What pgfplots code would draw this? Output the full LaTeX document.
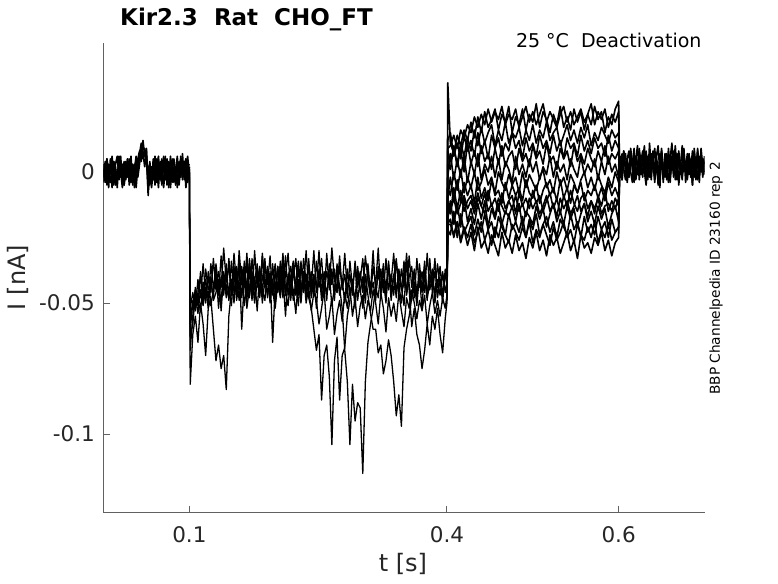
\documentclass[border=0pt]{standalone}
\usepackage{fontspec}
\setmainfont{DejaVu Sans}
\usepackage{pgfplots}
\usepackage{pgfplotstable}
\pgfplotsset{compat=1.18}

% currents in pA, time in ms
\pgfplotstableread{
x a b c d
0 -2 3 -4 1
2 4 -3 1 -4
4 -5 2 5 5
6 3 -6 -1 -2
8 -1 5 -4 3
10 6 -2 2 -6
12 -4 4 -5 4
14 2 -5 3 0
16 -6 1 6 -3
18 5 -3 -2 6
20 -2 6 0 -1
22 3 -4 -6 2
24 -5 2 4 -5
26 1 -1 -3 4
28 4 5 5 -2
30 -3 -5 -1 5
32 6 0 3 -4
34 -4 3 -5 1
36 2 -6 1 3
38 -1 4 6 -6
40 5 1 -2 2
42 8 6 3 7
44 4 10 9 11
46 12 5 7 6
48 6 9 2 8
50 9 3 8 5
52 -9 2 -3 -7
54 3 -5 4 0
56 -4 2 -6 -3
58 5 -3 1 4
60 -2 6 -4 -5
62 1 -4 5 2
64 -6 3 -1 6
66 4 -2 2 -2
68 -3 5 -5 -4
70 2 -6 6 3
72 6 1 -3 -1
74 -5 4 0 5
76 3 -3 4 -6
78 -1 6 -6 2
80 5 -4 2 4
82 -4 2 5 -3
84 2 -5 -2 1
86 -6 3 3 6
88 4 0 -4 -5
90 -2 5 6 3
92 7 -3 -1 -2
94 -3 4 2 0
96 1 -6 5 5
98 6 2 -3 -4
100 -1 3 1 2
}\segA

\pgfplotstableread{
x d1 d2 d3 d4 d5 d6
100 0 1 -1 2 -2 0
101 -81 -60 -52 -68 -57 -63
104 -62 -50 -46 -55 -49 -58
107 -55 -45 -52 -44 -53 -47
110 -65 -51 -41 -49 -46 -54
113 -50 -38 -48 -53 -40 -45
116 -58 -46 -35 -42 -50 -51
119 -70 -41 -47 -50 -37 -44
122 -52 -49 -40 -38 -45 -52
125 -48 -35 -46 -51 -42 -40
128 -60 -44 -33 -45 -48 -49
131 -72 -39 -45 -37 -35 -46
134 -66 -47 -38 -52 -44 -41
137 -75 -32 -44 -40 -49 -53
140 -70 -45 -29 -47 -38 -39
143 -83 -38 -42 -35 -46 -48
146 -55 -48 -36 -49 -33 -44
149 -45 -34 -47 -41 -44 -51
152 -38 -46 -31 -50 -39 -36
155 -47 -40 -43 -36 -47 -49
158 -34 -49 -37 -45 -30 -42
161 -60 -36 -48 -39 -43 -47
164 -41 -44 -34 -51 -37 -40
167 -36 -31 -45 -42 -49 -52
170 -48 -47 -38 -35 -33 -44
173 -33 -39 -49 -47 -45 -38
176 -45 -50 -30 -40 -41 -49
179 -39 -35 -44 -53 -36 -43
182 -47 -46 -37 -38 -48 -36
185 -31 -41 -46 -45 -32 -50
188 -44 -33 -35 -49 -44 -41
191 -36 -48 -43 -37 -39 -47
194 -49 -38 -32 -44 -50 -39
197 -42 -65 -47 -41 -35 -45
200 -35 -44 -38 -50 -46 -52
203 -46 -36 -45 -36 -38 -42
206 -38 -47 -34 -46 -43 -48
209 -44 -32 -48 -40 -31 -37
212 -32 -45 -39 -55 -47 -46
215 -47 -40 -31 -39 -40 -51
218 -40 -49 -46 -48 -36 -40
221 -34 -37 -40 -35 -49 -45
224 -45 -43 -33 -47 -42 -54
227 -37 -51 -47 -42 -34 -41
230 -48 -34 -36 -50 -45 -47
233 -33 -46 -44 -38 -39 -38
236 -42 -39 -30 -46 -48 -50
239 -36 -48 -45 -33 -35 -44
242 -47 -52 -38 -48 -44 -53
245 -39 -60 -47 -41 -30 -46
248 -44 -68 -34 -52 -46 -49
251 -30 -62 -44 -37 -40 -58
254 -46 -87 -39 -49 -33 -52
257 -38 -70 -48 -42 -47 -45
260 -49 -66 -31 -46 -38 -60
263 -35 -78 -45 -39 -43 -55
266 -43 -104 -37 -51 -29 -48
269 -37 -72 -49 -44 -41 -62
272 -46 -63 -35 -38 -46 -54
275 -32 -87 -44 -47 -36 -49
278 -45 -70 -52 -41 -44 -57
281 -39 -67 -68 -50 -31 -46
284 -48 -55 -80 -37 -45 -52
287 -34 -49 -104 -46 -39 -44
290 -44 -41 -81 -43 -47 -55
293 -36 -52 -95 -49 -34 -48
296 -49 -38 -88 -36 -44 -59
299 -41 -46 -90 -45 -38 -51
302 -33 -40 -115 -52 -46 -47
305 -47 -50 -80 -39 -32 -56
308 -38 -35 -65 -47 -41 -49
311 -45 -47 -58 -54 -48 -53
314 -30 -42 -52 -60 -36 -45
317 -46 -49 -44 -60 -43 -50
320 -39 -36 -48 -69 -29 -58
323 -44 -45 -37 -66 -47 -46
326 -35 -41 -46 -77 -38 -52
329 -48 -50 -33 -72 -44 -61
332 -37 -34 -45 -64 -35 -48
335 -42 -46 -39 -70 -49 -55
338 -31 -39 -47 -80 -40 -50
341 -46 -48 -34 -93 -33 -57
344 -39 -37 -43 -85 -46 -46
347 -45 -44 -50 -97 -37 -53
350 -34 -51 -38 -67 -44 -59
353 -47 -35 -46 -60 -31 -48
356 -40 -43 -32 -55 -45 -52
359 -36 -49 -44 -48 -59 -45
362 -48 -38 -37 -42 -52 -50
365 -33 -46 -48 -51 -62 -56
368 -44 -40 -35 -39 -66 -49
371 -38 -52 -45 -46 -75 -53
374 -46 -36 -40 -34 -68 -47
377 -31 -47 -49 -48 -58 -58
380 -45 -39 -33 -43 -66 -51
383 -40 -44 -46 -37 -55 -46
386 -47 -33 -38 -50 -60 -54
389 -35 -48 -44 -41 -52 -49
392 -43 -41 -36 -47 -62 -55
395 -38 -50 -47 -39 -69 -48
398 -46 -37 -40 -45 -56 -52
400 -42 -44 -39 -46 -50 -47
}\segB

\pgfplotstableread{
x g1 g2 g3 g4 g5 g6 g7 g8 g9 g10 g11 g12 g13 g14
400 -42 -44 -39 -46 -50 -47 -43 -45 -41 -48 -44 -45 -43 -40
401 34 8 12 3 -2 -6 -10 -14 -18 -22 -20 9 -12 -20
404 11 4 15 1 7 -9 -2 -16 -11 -24 -18 10 -15 -20
408 7 9 6 10 -3 0 -11 -6 -20 -15 -25 14 -10 -24
412 14 3 11 2 5 -7 -3 -14 -12 -25 -19 9 -16 -19
416 10 11 5 9 -2 1 -12 -7 -21 -16 -27 16 -12 -26
420 16 6 14 0 6 -8 -4 -15 -10 -23 -22 13 -9 -21
424 12 13 8 11 -4 -2 -9 -11 -19 -20 -28 18 -14 -25
428 19 8 12 3 4 -6 -5 -9 -14 -17 -23 15 -11 -20
432 13 16 6 8 -1 0 -12 -14 -20 -24 -30 21 -16 -27
436 21 10 15 2 7 -7 -2 -8 -12 -18 -21 17 -10 -23
440 15 17 7 10 -3 -4 -10 -13 -18 -23 -29 22 -13 -19
444 23 11 12 4 3 1 -6 -16 -11 -16 -26 18 -8 -26
448 17 15 5 7 0 -5 -11 -7 -21 -22 -31 24 -15 -22
452 20 18 14 1 6 -2 -3 -13 -14 -19 -24 19 -12 -28
456 24 10 9 9 -2 -8 -9 -10 -18 -25 -28 23 -17 -21
460 16 16 13 3 5 0 -7 -15 -12 -17 -32 20 -10 -25
464 22 12 6 10 -3 -4 -12 -8 -20 -21 -23 25 -13 -19
468 19 19 11 2 4 -7 -4 -14 -15 -24 -29 18 -16 -24
472 25 11 8 6 1 -1 -10 -11 -17 -16 -26 22 -11 -27
476 15 15 15 8 -4 -5 -5 -9 -13 -22 -31 20 -14 -20
480 21 13 9 1 6 -2 -9 -16 -19 -19 -24 24 -9 -23
484 18 17 12 9 -1 -8 -6 -8 -12 -23 -30 17 -15 -26
488 24 10 5 4 3 0 -11 -13 -21 -17 -27 21 -12 -21
492 16 16 13 7 -2 -6 -3 -10 -15 -25 -33 25 -17 -25
496 22 12 8 2 5 -1 -8 -14 -17 -18 -25 19 -10 -19
500 19 18 11 10 0 -4 -10 -7 -20 -22 -29 23 -14 -27
504 26 11 6 5 4 -7 -5 -12 -13 -16 -23 18 -11 -22
508 17 16 14 8 -3 -2 -12 -9 -18 -24 -30 22 -16 -25
512 23 13 9 3 2 1 -7 -15 -14 -20 -26 26 -13 -20
516 20 19 12 11 -1 -6 -4 -11 -21 -17 -32 19 -9 -24
520 15 12 7 4 6 -3 -9 -8 -16 -23 -24 23 -15 -28
524 22 15 14 6 -2 -8 -6 -14 -12 -19 -28 20 -12 -21
528 18 17 8 1 4 0 -11 -10 -19 -25 -25 17 -17 -26
532 25 10 12 9 0 -5 -3 -16 -15 -18 -31 22 -10 -23
536 17 14 5 5 3 -2 -10 -9 -20 -21 -27 25 -14 -19
540 21 18 13 8 -3 -7 -6 -13 -13 -24 -23 19 -11 -25
544 16 12 9 2 5 -1 -12 -7 -18 -16 -30 23 -16 -22
548 24 16 11 10 1 -4 -5 -12 -14 -22 -26 18 -13 -27
552 19 11 6 4 -2 -8 -8 -15 -21 -19 -33 21 -9 -20
556 23 17 14 7 6 -3 -4 -10 -16 -25 -24 24 -15 -24
560 16 13 8 3 -1 0 -11 -8 -12 -17 -29 19 -12 -26
564 22 18 12 9 3 -6 -7 -14 -19 -23 -27 22 -17 -21
568 18 10 7 5 0 -2 -9 -11 -15 -20 -31 26 -11 -25
572 25 15 13 2 5 -7 -5 -16 -20 -24 -25 18 -14 -19
576 20 12 9 8 -3 -1 -10 -9 -13 -17 -28 23 -10 -27
580 23 17 11 4 4 -5 -6 -13 -18 -22 -23 20 -16 -22
584 15 14 6 10 -1 -8 -11 -7 -14 -19 -30 24 -13 -25
588 21 11 14 3 6 -2 -4 -15 -21 -25 -26 17 -12 -20
592 18 16 8 7 0 -6 -9 -11 -16 -18 -32 22 -15 -26
596 24 13 12 5 3 0 -6 -14 -13 -23 -27 19 -10 -23
600 27 15 9 8 -2 -4 -10 -10 -19 -21 -25 23 -13 -21
601 2 -1 3 0 -2 1 4 -3 2 -1 0 1 -2 3
}\segC

\pgfplotstableread{
x a b c d
600 3 -1 5 2
602 -2 6 1 5
604 7 0 -3 -3
606 1 8 4 8
608 -3 2 7 0
610 5 -4 0 4
612 8 3 -2 -2
614 0 7 6 9
616 -4 1 3 3
618 6 -2 9 -4
620 2 5 -3 6
622 -1 10 2 1
624 9 -3 5 7
626 3 4 -1 -1
628 -2 8 6 4
630 7 0 2 10
632 4 -5 8 -2
634 -3 6 1 5
636 11 2 -2 3
638 1 -1 7 -3
640 6 4 3 8
642 -4 9 -3 0
644 5 1 6 6
646 2 -3 10 -5
648 -6 7 0 2
650 8 3 4 9
652 0 -2 -4 1
654 4 6 7 -2
656 -3 1 2 7
658 9 -4 5 4
660 1 5 -2 -4
662 6 11 3 6
664 -2 0 8 2
666 3 4 -3 10
668 7 -3 1 -1
670 -5 8 6 5
672 2 2 -1 3
674 10 -2 4 -3
676 0 6 9 8
678 4 1 -4 0
680 -3 7 2 -2
682 6 -1 7 6
684 1 4 -2 4
686 8 -5 3 -5
688 -2 9 5 7
690 5 2 -3 1
692 3 -3 8 9
694 -4 6 1 -1
696 9 0 4 3
698 2 5 -2 5
700 -1 3 6 0
}\segD

\pgfplotsset{tr/.style={black, line width=1.6pt, no marks, line join=round},
             trthin/.style={black, line width=1.3pt, no marks, line join=round}}

\begin{document}
\begin{tikzpicture}
\begin{axis}[
  at={(0pt,0pt)}, anchor=south west,
  scale only axis, width=601pt, height=469.6pt,
  xmin=0, xmax=700, ymin=-129.8, ymax=49.3,
  axis lines=left,
  axis line style={-, black!62, line width=0.9pt},
  tick style={black!62, line width=0.9pt},
  tick align=inside, major tick length=6.3pt,
  xtick={100,400,600}, xticklabels={0.1,0.4,0.6},
  ytick={-100,-50,0}, yticklabels={{-0.1\hspace{8.3pt}},{-0.05},{0\hspace{30pt}}},
  tick label style={font=\fontsize{21.5}{24}\selectfont, text=black!85},
  xticklabel style={anchor=north, inner sep=0pt, yshift=-13.7pt},
  yticklabel style={anchor=east, inner sep=0pt, xshift=-8.5pt},
  xlabel={t [s]}, ylabel={I [nA]},
  label style={font=\fontsize{24}{28}\selectfont, text=black!85},
  xlabel style={at={(axis description cs:0.4983,0)}, anchor=base, inner sep=0pt, yshift=-58.7pt},
  ylabel style={at={(axis description cs:-0.1431,0.5)}, anchor=center, inner sep=0pt},
]
\pgfplotsinvokeforeach{a,b,c,d}{\addplot[tr] table[x=x,y=#1]{\segA};}
\pgfplotsinvokeforeach{d1,d2,d3,d4,d5,d6}{\addplot[trthin] table[x=x,y=#1]{\segB};}
\pgfplotsinvokeforeach{g1,g2,g3,g4,g5,g6,g7,g8,g9,g10,g11,g12,g13,g14}{\addplot[tr] table[x=x,y=#1]{\segC};}
\pgfplotsinvokeforeach{a,b,c,d}{\addplot[tr] table[x=x,y=#1]{\segD};}
\end{axis}
\node[font=\bfseries\fontsize{23}{27}\selectfont, anchor=base, inner sep=0pt] at (143pt,486.3pt) {Kir2.3\ \ Rat\ \ CHO\_FT};
\node[font=\fontsize{19}{22}\selectfont, anchor=base east, inner sep=0pt] at (598.2pt,464.6pt) {25 °C\ \ Deactivation};
\node[font=\fontsize{13.7}{16}\selectfont, rotate=90, anchor=center, inner sep=0pt] at (612.5pt,233.8pt) {BBP Channelpedia ID 23160 rep 2};
\pgfresetboundingbox
\path (-103.5pt,-70.7pt) rectangle (674.5pt,512.3pt);
\end{tikzpicture}
\end{document}
